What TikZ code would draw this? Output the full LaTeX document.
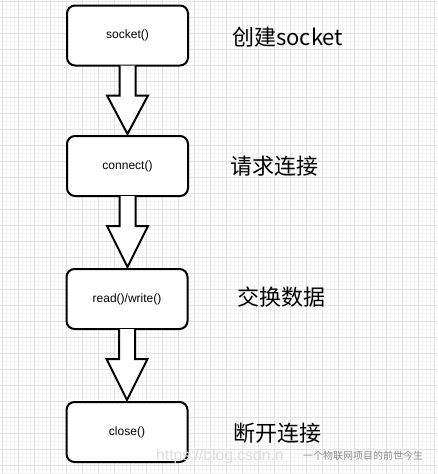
\documentclass[tikz,border=0pt]{standalone}
\usepackage{fontspec}
\setmainfont{Liberation Sans}
\newfontfamily\cjk{Noto Sans CJK SC}
\usetikzlibrary{calc}
\definecolor{gridmaj}{HTML}{E2E2E2}
\definecolor{gridmin}{HTML}{F5F5F5}
\tikzset{
  stepbox/.style={draw=black, line width=2pt, rounded corners=8pt, fill=white,
    minimum width=121pt, minimum height=60pt, inner sep=0pt,
    font=\fontsize{12}{13}\selectfont},
  lbl/.style={anchor=west, inner sep=0pt, font=\cjk\fontsize{22}{24}\selectfont},
  blockarrow/.style={draw=black, line width=2pt, fill=white, line join=miter},
}
\begin{document}
\begin{tikzpicture}[x=1pt,y=-1pt]
\useasboundingbox (0,0) rectangle (437,474);
\fill[white] (0,0) rectangle (437,474);
% minor grid
\foreach \i in {0,...,110} {
  \draw[gridmin, line width=0.5pt] ({2.3+4*\i},0) -- ({2.3+4*\i},474);
}
\foreach \i in {0,...,118} {
  \draw[gridmin, line width=0.5pt] (0,{1.7+4*\i}) -- (437,{1.7+4*\i});
}
% major grid
\foreach \i in {0,...,27} {
  \draw[gridmaj, line width=0.8pt] ({2.3+16*\i},0) -- ({2.3+16*\i},474);
}
\foreach \i in {0,...,29} {
  \draw[gridmaj, line width=0.8pt] (0,{1.7+16*\i}) -- (437,{1.7+16*\i});
}

\node[stepbox] (b1) at (127.5,35.5) {socket()};
\node[stepbox] (b2) at (127.5,166) {connect()};
\node[stepbox] (b3) at (127,299) {read()/write()};
\node[stepbox] (b4) at (127,432) {close()};

\foreach \a/\b in {b1/b2, b2/b3, b3/b4} {
  \draw[blockarrow] let \p1=(\a.south), \p2=(\b.north) in
    (\x1-8pt,\y1+1pt) -- (\x1-8pt,\y1-29pt) -- (\x1-20.5pt,\y1-29pt)
    -- (\x1,\y2+1pt) -- (\x1+20.5pt,\y1-29pt) -- (\x1+8pt,\y1-29pt) -- (\x1+8pt,\y1+1pt);
}

\node[lbl] (l1) at (232,37) {创建socket};
\node[lbl] (l2) at (230,166) {请求连接};
\node[lbl] (l3) at (237,297.5) {交换数据};
\node[lbl] (l4) at (233,433) {断开连接};

% watermark
\node[anchor=west, inner sep=0pt, text=black!13, font=\fontsize{15.7}{16}\selectfont] (wm1) at (156,456) {https://blog.csdn.n};
\node[anchor=west, inner sep=0pt, text=black!45, font=\cjk\fontsize{10}{11}\selectfont] (wm2) at (303,456) {一个物联网项目的前世今生};
\end{tikzpicture}
\end{document}
